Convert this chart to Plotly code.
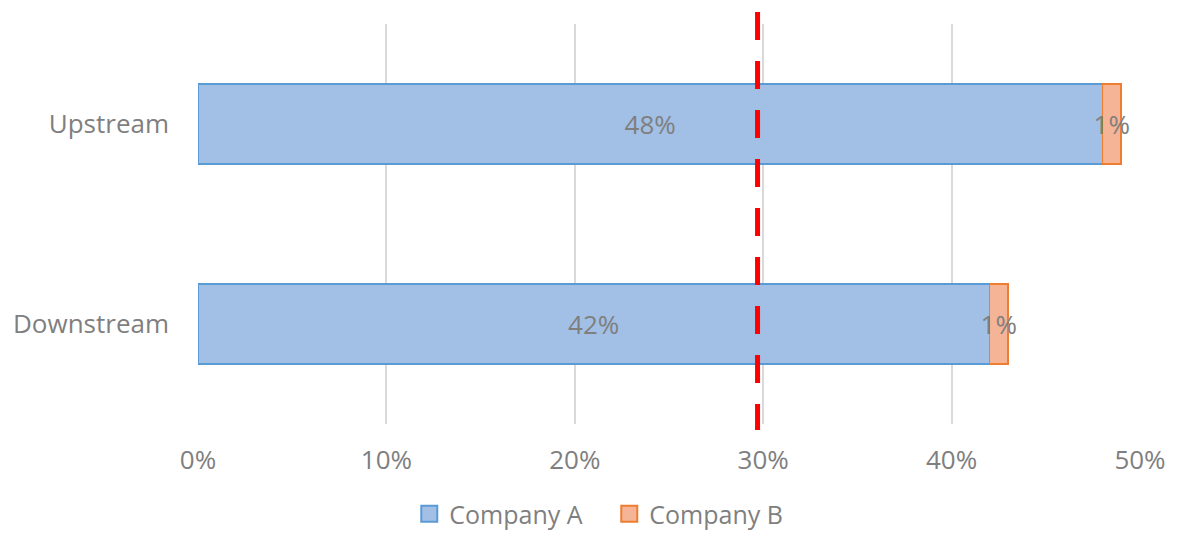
import plotly.graph_objects as go

categories = ["Upstream", "Downstream"]
company_a = [0.48, 0.42]
company_b = [0.01, 0.01]
threshold = 0.297
tick_vals = [0, 0.1, 0.2, 0.3, 0.4, 0.5]
series_names = ["Company A", "Company B"]

font_fam = "Open Sans, Noto Sans, sans-serif"
gray = "#7F7F7F"
fills = ["#A2C0E6", "#F6B496"]
borders = ["#5B9BD5", "#ED7D31"]
FS = 26

fig = go.Figure()
for name, vals, fc, bc in zip(series_names, [company_a, company_b], fills, borders):
    fig.add_trace(go.Bar(
        y=categories, x=vals, name=name, orientation="h", showlegend=False,
        marker=dict(color=fc, line=dict(color=bc, width=1.5)),
        text=[f"{v:.0%}" for v in vals], textposition="inside", textangle=0,
        insidetextanchor="middle", textfont=dict(color=gray, size=FS, family=font_fam),
        width=0.4, cliponaxis=False,
    ))
# legend entries with larger square swatches
for name, fc, bc in zip(series_names, fills, borders):
    fig.add_trace(go.Scatter(
        x=[None], y=[None], mode="markers", name=name, showlegend=True,
        marker=dict(symbol="square", size=18, color=fc, line=dict(color=bc, width=2)),
    ))

fig.add_shape(type="line", xref="x", yref="paper",
              x0=threshold, x1=threshold, y0=1.03, y1=-0.015,
              line=dict(color="#FF0000", width=5, dash="28px,21px"))

fig.update_layout(
    barmode="stack",
    width=1163, height=529,
    margin=dict(l=190, r=31, t=16, b=113, autoexpand=False),
    plot_bgcolor="white", paper_bgcolor="white",
    font=dict(family=font_fam, color=gray, size=FS),
    uniformtext=dict(minsize=FS, mode="show"),
    showlegend=True,
    legend=dict(orientation="h", xref="container", yref="container",
                x=0.517, xanchor="center", y=0.0, yanchor="bottom",
                font=dict(size=25, color=gray), traceorder="normal",
                itemsizing="trace", itemwidth=30, entrywidth=155),
    xaxis=dict(range=[0, 0.5], tickvals=tick_vals, tickformat=".0%",
               showgrid=True, gridcolor="#D9D9D9", gridwidth=1.5,
               zeroline=False, showline=False, ticks="", automargin=False,
               ticklabelstandoff=18, tickfont=dict(size=FS, color=gray)),
    yaxis=dict(autorange="reversed", showgrid=False, zeroline=False, showline=False,
               ticks="", automargin=False,
               ticklabelstandoff=28, tickfont=dict(size=FS, color=gray)),
)

fig.write_html("out.html")
